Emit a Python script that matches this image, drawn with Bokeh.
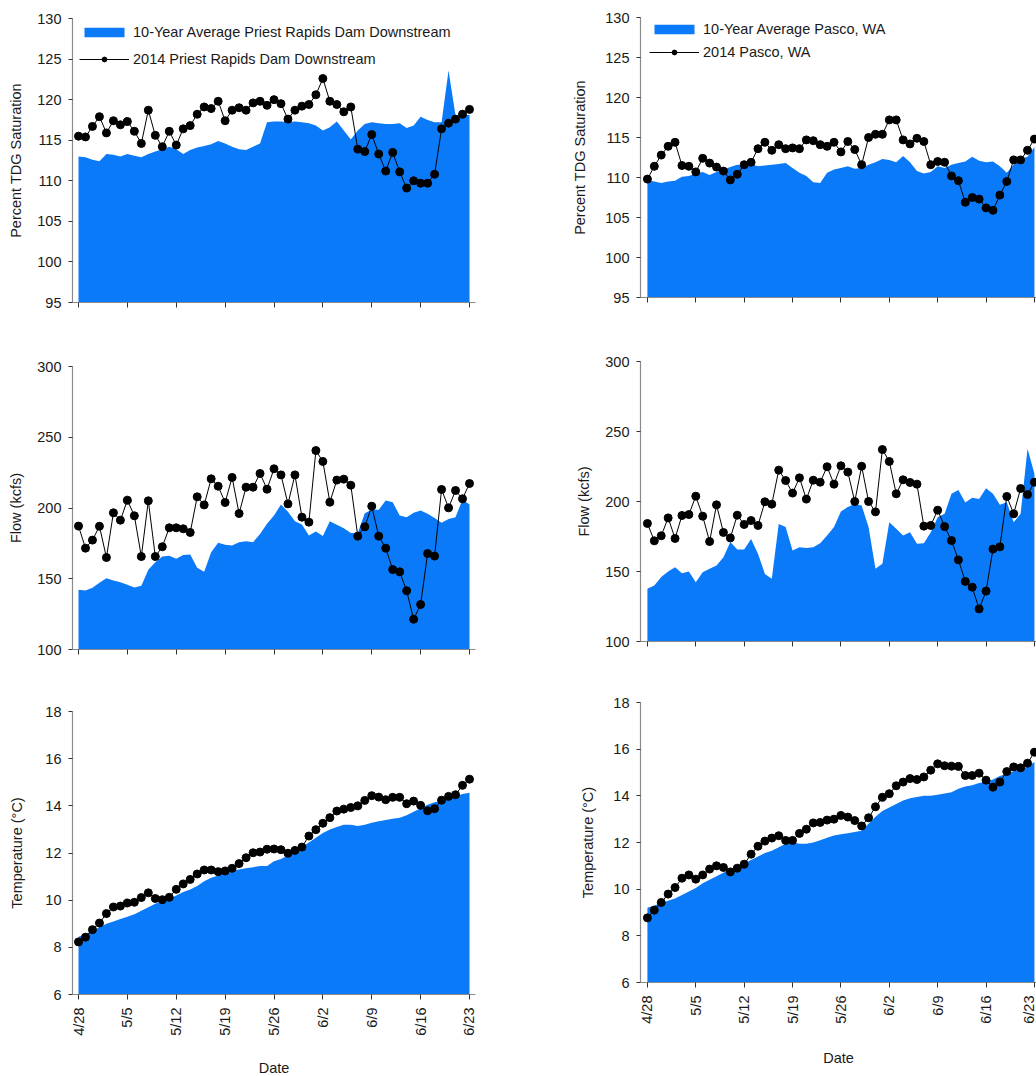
import math
from bokeh.plotting import figure
from bokeh.layouts import row, column
from bokeh.models import FixedTicker, Range1d
from bokeh.embed import file_html
from bokeh.resources import INLINE

# ---------------- data ----------------
days = list(range(57))  # 4/28 .. 6/23
tick_days = [0, 7, 14, 21, 28, 35, 42, 49, 56]
tick_labels = ["4/28", "5/5", "5/12", "5/19", "5/26", "6/2", "6/9", "6/16", "6/23"]

prd_tdg_avg = [113.0, 112.9, 112.6, 112.4, 113.3, 113.2, 113.0, 113.3, 113.1, 112.9,
               113.3, 113.6, 113.9, 114.2, 113.9, 113.3, 113.8, 114.1, 114.3, 114.5,
               114.9, 114.6, 114.2, 113.9, 113.8, 114.2, 114.6, 117.2, 117.3, 117.3,
               117.2, 117.3, 117.2, 117.1, 116.8, 116.2, 116.6, 117.3, 116.2, 115.1,
               116.2, 117.0, 117.2, 117.1, 117.0, 117.0, 117.1, 116.5, 116.8, 117.9,
               117.5, 117.2, 117.2, 123.6, 118.0, 118.1, 118.1]
prd_tdg_2014 = [115.5, 115.4, 116.7, 117.9, 115.9, 117.4, 116.9, 117.3, 116.1, 114.6,
                118.7, 115.6, 114.2, 116.1, 114.4, 116.4, 116.8, 118.2, 119.1, 118.9,
                119.8, 117.4, 118.7, 119.0, 118.7, 119.6, 119.8, 119.3, 120.0, 119.5,
                117.6, 118.7, 119.2, 119.4, 120.6, 122.6, 119.8, 119.4, 118.5, 119.1,
                113.9, 113.6, 115.7, 113.3, 111.2, 113.5, 111.1, 109.1, 110.0, 109.7,
                109.7, 110.8, 116.4, 117.1, 117.6, 118.2, 118.8]

pas_tdg_avg = [109.7, 109.5, 109.3, 109.5, 109.6, 110.1, 110.2, 110.5, 110.7, 110.3,
               110.7, 111.0, 111.3, 111.6, 111.5, 111.7, 111.4, 111.5, 111.6, 111.7,
               111.8, 111.2, 110.6, 110.2, 109.4, 109.3, 110.6, 111.0, 111.2, 111.4,
               111.1, 111.2, 111.6, 111.9, 112.3, 112.2, 111.9, 112.7, 111.9, 110.8,
               110.5, 110.7, 111.4, 111.2, 111.6, 111.8, 112.0, 112.6, 112.1, 111.9,
               112.0, 111.4, 110.6, 111.6, 112.3, 112.6, 113.8]
pas_tdg_2014 = [109.8, 111.4, 112.8, 113.9, 114.4, 111.5, 111.4, 110.7, 112.4, 111.8,
                111.3, 110.8, 109.7, 110.4, 111.6, 111.9, 113.6, 114.4, 113.4, 114.1,
                113.6, 113.7, 113.6, 114.7, 114.6, 114.1, 113.9, 114.4, 113.2, 114.5,
                113.5, 111.6, 115.0, 115.4, 115.4, 117.2, 117.2, 114.7, 114.2, 114.9,
                114.5, 111.6, 112.0, 111.9, 110.2, 109.6, 106.9, 107.5, 107.3, 106.2,
                105.9, 107.8, 109.5, 112.2, 112.2, 113.4, 114.8]

prd_flow_avg = [142.2, 141.7, 143.6, 147.1, 150.4, 148.8, 147.6, 145.7, 143.8, 145.0,
                156.3, 161.7, 165.7, 166.2, 164.1, 166.7, 167.1, 157.7, 154.9, 168.8,
                175.4, 174.0, 173.5, 175.8, 176.5, 175.8, 181.7, 188.8, 194.7, 202.5,
                197.3, 190.7, 188.3, 180.6, 183.4, 180.3, 190.7, 188.1, 185.7, 182.4,
                182.4, 196.3, 198.7, 198.7, 205.3, 204.1, 194.7, 193.5, 196.6, 198.2,
                195.9, 193.0, 189.5, 192.3, 193.5, 206.0, 202.5]
prd_flow_2014 = [187.2, 171.6, 177.3, 187.1, 165.0, 196.6, 191.4, 205.5, 194.5, 165.7,
                 205.1, 165.7, 172.6, 186.0, 186.0, 185.3, 182.7, 207.9, 202.2, 220.6,
                 215.4, 203.9, 221.6, 196.1, 214.7, 214.7, 224.4, 213.3, 227.7, 223.4,
                 202.9, 223.4, 193.5, 190.0, 240.6, 232.9, 204.1, 219.7, 220.4, 216.1,
                 180.1, 186.7, 201.3, 180.1, 171.6, 156.5, 154.9, 141.5, 121.4, 131.8,
                 167.8, 166.0, 213.1, 200.1, 212.4, 206.5, 217.3]

pas_flow_avg = [137.6, 140.0, 146.0, 150.0, 153.1, 148.8, 150.0, 142.4, 149.5, 151.9,
                154.3, 160.2, 171.0, 165.7, 165.7, 173.3, 162.6, 148.3, 144.8, 184.0,
                181.7, 165.0, 167.4, 166.7, 167.4, 170.2, 175.7, 181.7, 192.9, 196.0,
                198.3, 197.1, 181.7, 151.9, 155.5, 185.2, 180.5, 175.7, 178.1, 169.8,
                170.2, 178.1, 188.8, 191.2, 205.5, 208.3, 199.3, 202.6, 201.7, 209.5,
                205.5, 197.6, 199.5, 185.2, 191.2, 237.6, 219.8]
pas_flow_2014 = [184.3, 171.9, 175.5, 188.3, 173.6, 190.0, 190.7, 203.8, 189.5, 171.4,
                 197.6, 177.9, 174.0, 190.2, 183.6, 186.4, 182.9, 199.8, 198.1, 222.4,
                 215.0, 206.0, 216.9, 201.7, 215.2, 213.8, 224.8, 212.4, 225.5, 221.0,
                 200.0, 225.2, 200.0, 192.6, 237.1, 228.6, 205.5, 215.5, 213.6, 212.4,
                 182.4, 182.9, 193.8, 182.1, 172.1, 158.3, 142.9, 138.8, 123.3, 136.0,
                 166.0, 167.6, 203.6, 191.2, 209.3, 205.0, 213.8]

prd_temp_avg = [8.45, 8.55, 8.7, 8.85, 9.0, 9.1, 9.2, 9.3, 9.4, 9.55,
                9.7, 9.85, 9.95, 10.05, 10.2, 10.35, 10.45, 10.6, 10.8, 10.95,
                11.05, 11.15, 11.25, 11.3, 11.35, 11.4, 11.45, 11.45, 11.65, 11.75,
                11.9, 12.05, 12.25, 12.45, 12.65, 12.85, 13.0, 13.1, 13.2, 13.2,
                13.15, 13.2, 13.28, 13.35, 13.4, 13.45, 13.5, 13.6, 13.75, 13.9,
                14.05, 14.15, 14.2, 14.3, 14.4, 14.5, 14.55]
prd_temp_2014 = [8.23, 8.43, 8.75, 9.03, 9.43, 9.71, 9.75, 9.88, 9.91, 10.11,
                 10.31, 10.07, 10.02, 10.12, 10.46, 10.69, 10.88, 11.11, 11.28, 11.28,
                 11.21, 11.24, 11.35, 11.55, 11.80, 12.01, 12.04, 12.16, 12.17, 12.14,
                 11.99, 12.11, 12.25, 12.72, 12.99, 13.26, 13.50, 13.78, 13.86, 13.93,
                 14.00, 14.23, 14.43, 14.37, 14.26, 14.36, 14.36, 14.09, 14.20, 14.02,
                 13.79, 13.88, 14.24, 14.40, 14.47, 14.87, 15.13]

pas_temp_avg = [9.2, 9.3, 9.4, 9.5, 9.6, 9.75, 9.9, 10.05, 10.25, 10.4,
                10.55, 10.7, 10.85, 10.95, 11.1, 11.25, 11.4, 11.55, 11.65, 11.8,
                11.95, 12.0, 11.95, 11.95, 12.0, 12.1, 12.2, 12.3, 12.35, 12.4,
                12.45, 12.5, 12.8, 13.1, 13.35, 13.5, 13.65, 13.8, 13.9, 13.95,
                14.0, 14.0, 14.05, 14.1, 14.15, 14.3, 14.4, 14.45, 14.55, 14.6,
                14.7, 14.85, 14.95, 15.05, 15.15, 15.25, 15.45]
pas_temp_2014 = [8.77, 9.10, 9.43, 9.79, 10.07, 10.47, 10.61, 10.43, 10.61, 10.86,
                 11.00, 10.93, 10.74, 10.90, 11.07, 11.50, 11.84, 12.06, 12.19, 12.29,
                 12.09, 12.09, 12.39, 12.57, 12.84, 12.86, 12.96, 13.00, 13.16, 13.09,
                 12.94, 12.71, 13.06, 13.53, 13.94, 14.09, 14.43, 14.59, 14.74, 14.70,
                 14.81, 15.10, 15.37, 15.29, 15.27, 15.26, 14.87, 14.87, 14.97, 14.67,
                 14.37, 14.59, 15.04, 15.24, 15.20, 15.40, 15.87]

tdg_ticks = [95, 100, 105, 110, 115, 120, 125, 130]
flow_ticks = [100, 150, 200, 250, 300]
temp_ticks = [6, 8, 10, 12, 14, 16, 18]

# ---------------- styling ----------------
BLUE = "#0a7af8"
FONT = "Liberation Sans"
FS = "14.5px"


def panel(avg, obs, yticks, ylabel, xr, frame_w, frame_h, borders,
          ylabel_std, bottom=None, legend=None):
    bl, br, bt, bb = borders
    p = figure(frame_width=frame_w, frame_height=frame_h,
               x_range=Range1d(*xr), y_range=Range1d(yticks[0], yticks[-1]),
               output_backend="svg", toolbar_location=None,
               min_border_left=bl, min_border_right=br,
               min_border_top=bt, min_border_bottom=bb)
    p.outline_line_color = None
    p.grid.visible = False
    p.background_fill_color = "white"

    kw_a = {"legend_label": legend[0]} if legend else {}
    kw_l = {"legend_label": legend[1]} if legend else {}
    p.varea(x=days, y1=[yticks[0]] * len(days), y2=avg, fill_color=BLUE, **kw_a)
    p.line(days, obs, line_color="black", line_width=1, **kw_l)
    p.scatter(days, obs, size=8, fill_color="black", line_color="black", **kw_l)

    for ax in (p.xaxis[0], p.yaxis[0]):
        ax.axis_line_color = "#8a8a8a"
        ax.axis_line_width = 1.2
        ax.major_tick_line_color = "#333333"
        ax.major_tick_in = 0
        ax.minor_tick_line_color = None
        ax.major_label_text_font = FONT
        ax.major_label_text_font_size = FS
        ax.major_label_text_color = "#1a1a1a"
        ax.axis_label_text_font = FONT
        ax.axis_label_text_font_size = FS
        ax.axis_label_text_font_style = "normal"
        ax.axis_label_text_color = "#1a1a1a"

    ya = p.yaxis[0]
    ya.ticker = FixedTicker(ticks=yticks)
    ya.major_tick_out = 4
    ya.major_label_standoff = 7
    ya.axis_label = ylabel
    ya.axis_label_standoff = ylabel_std

    xa = p.xaxis[0]
    xa.ticker = FixedTicker(ticks=tick_days)
    xa.major_tick_out = 5
    if bottom is not None:
        xa.major_label_overrides = {d: l for d, l in zip(tick_days, tick_labels)}
        xa.major_label_orientation = math.pi / 2
        xa.major_label_standoff = 8
        xa.axis_label = "Date"
        xa.axis_label_standoff = bottom
    else:
        xa.major_label_overrides = {d: "" for d in tick_days}
        xa.major_label_standoff = 0

    if legend:
        lg = p.legend[0]
        lg.location = legend[2]
        lg.padding = 0
        lg.margin = 0
        lg.spacing = 3
        lg.label_height = legend[3]
        lg.glyph_height = 12
        lg.glyph_width = 50
        lg.label_standoff = 4
        lg.label_text_font = FONT
        lg.label_text_font_size = FS
        lg.label_text_color = "#1a1a1a"
        lg.background_fill_alpha = 0
        lg.border_line_alpha = 0
    return p


LX = (-0.86, 56.86)
RX = (-1.0, 56.3)

l1 = panel(prd_tdg_avg, prd_tdg_2014, tdg_ticks, "Percent TDG Saturation", LX, 403, 284,
           (72, 25, 18, 32), 10,
           legend=("10-Year Average Priest Rapids Dam Downstream",
                   "2014 Priest Rapids Dam Downstream", (7, 231), 24))
l2 = panel(prd_flow_avg, prd_flow_2014, flow_ticks, "Flow (kcfs)", LX, 403, 283,
           (72, 25, 32, 31), 10)
l3 = panel(prd_temp_avg, prd_temp_2014, temp_ticks, "Temperature (°C)", LX, 403, 283,
           (72, 25, 31, 80), 17, bottom=21)

r1 = panel(pas_tdg_avg, pas_tdg_2014, tdg_ticks, "Percent TDG Saturation", RX, 396, 280,
           (140, 0, 17, 32), 14,
           legend=("10-Year Average Pasco, WA", "2014 Pasco, WA", (9, 235), 20))
r2 = panel(pas_flow_avg, pas_flow_2014, flow_ticks, "Flow (kcfs)", RX, 396, 280,
           (140, 0, 32, 30), 10)
r3 = panel(pas_temp_avg, pas_temp_2014, temp_ticks, "Temperature (°C)", RX, 396, 280,
           (140, 0, 31, 82), 14, bottom=23)

layout = row(column(l1, l2, l3, spacing=0), column(r1, r2, r3, spacing=0), spacing=0)

with open("out.html", "w") as f:
    f.write(file_html(layout, INLINE))
